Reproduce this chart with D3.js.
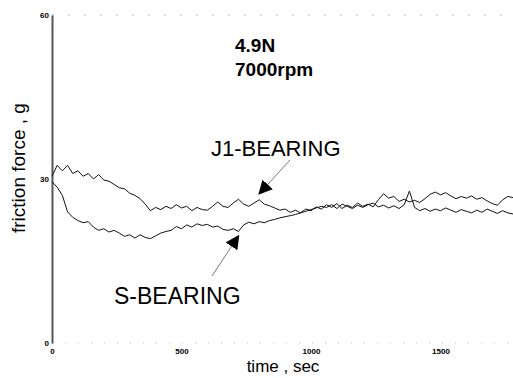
<!DOCTYPE html>
<html>
<head>
<meta charset="utf-8">
<script src="https://cdn.jsdelivr.net/npm/d3@7"></script>
<style>
  body { margin: 0; background: #fff; }
  svg { display: block; font-family: "Liberation Sans", Arial, sans-serif; }
</style>
</head>
<body>
<svg id="chart" width="513" height="378"></svg>
<script>
// sampled every 20 sec, 0 .. 1780
const step = 20;
const j1Bearing = [
  30.5, 32.5, 31.5, 32.5, 31, 31.5, 30.5, 31, 30, 30.8, 29.8,
  29.6, 29, 28.4, 28.2, 27.4, 27, 26.4, 25.4, 24.2, 24.8,
  24.4, 25, 24.6, 25.3, 24.7, 25, 24.2, 24.8, 24.4, 24.3,
  25, 25.8, 25, 24.8, 25.6, 26.3, 25.4, 25, 25.6, 26.2,
  25.4, 25.1, 24.7, 24.3, 24.5, 23.9, 24.3, 23.8, 24.5, 24.2,
  24.9, 24.5, 25.3, 24.8, 25.5, 24.6, 25.2, 24.8, 25.6, 25,
  25.4, 24.9, 26.2, 27.3, 26.5, 26.8, 25.9, 26.3, 25.8, 26.1,
  25.7, 26.4, 27.2, 27.6, 27.1, 27.5, 26.9, 26.4, 26.8, 26.5,
  26.9, 26.3, 26.6, 26, 25.5, 25.2, 26.2, 26.8, 26.6
];
const sBearing = [
  29.5, 28.5, 27, 24, 23, 22.4, 22, 22.2, 21.2, 20.6, 20.9,
  20.3, 20.6, 20.1, 19.5, 19.8, 19.2, 19.8, 19.3, 19.1, 19.6,
  20.1, 20.4, 20.6, 21.3, 20.9, 21.6, 21.2, 21.8, 21.5, 21.7,
  21.2, 21.4, 20.8, 20.6, 20.9, 20.4, 21.6, 22.1, 21.8, 22.2,
  22, 22.4, 22.6, 22.9, 23.1, 23.3, 23.5, 23.8, 24.1, 24.4,
  24.7, 25, 24.8, 25.3, 24.6, 25.4, 25, 24.6, 25.2, 24.8,
  25.3, 25.6, 24.9, 25.2, 24.7, 25.1, 24.6, 25.3, 27.8, 24.8,
  24.2, 24.6, 24.1, 24.5, 24.2, 24.7, 24.3, 23.9, 24.4, 24.1,
  23.8, 24.3, 23.9, 24.5, 24.1, 23.7, 24.2, 23.8, 23.6
];
const xTicks = [0, 500, 1000, 1500];
const yTicks = [0, 30, 60];

const svg = d3.select('#chart');
const x = d3.scaleLinear().domain([0, 1780]).range([52, 513]);
const y = d3.scaleLinear().domain([0, 60]).range([343, 15]);

// faint frame lines top and bottom
svg.append('line')
  .attr('x1', x(0)).attr('x2', 513).attr('y1', y(60)).attr('y2', y(60))
  .attr('stroke', '#bbb').attr('stroke-dasharray', '2,14');
svg.append('line')
  .attr('x1', x(0)).attr('x2', 513).attr('y1', y(0)).attr('y2', y(0))
  .attr('stroke', '#bbb').attr('stroke-dasharray', '1,12');

// y axis
const yAxis = svg.append('g')
  .attr('transform', `translate(${x(0)},0)`)
  .call(d3.axisLeft(y).tickValues(yTicks).tickSize(0).tickPadding(3));
yAxis.select('.domain').attr('stroke', '#555').attr('stroke-width', 2);
yAxis.selectAll('text').attr('font-size', 8).attr('font-weight', 'bold').attr('fill', '#000');

// x axis (labels only)
const xAxis = svg.append('g')
  .attr('transform', `translate(0,${y(0)})`)
  .call(d3.axisBottom(x).tickValues(xTicks).tickFormat(d3.format('d')).tickSize(0).tickPadding(5));
xAxis.select('.domain').remove();
xAxis.selectAll('text').attr('font-size', 8).attr('font-weight', 'bold').attr('fill', '#000');

const line = d3.line()
  .x((d, i) => x(i * step))
  .y(d => y(d));

[sBearing, j1Bearing].forEach(s => {
  svg.append('path')
    .datum(s)
    .attr('d', line)
    .attr('fill', 'none')
    .attr('stroke', '#111')
    .attr('stroke-width', 1);
});

// axis titles
svg.append('text')
  .attr('transform', `translate(25,${y(32)}) rotate(-90)`)
  .attr('text-anchor', 'middle')
  .attr('font-size', 19)
  .text('friction force , g');
svg.append('text')
  .attr('x', 283).attr('y', 372)
  .attr('text-anchor', 'middle')
  .attr('font-size', 17)
  .text('time , sec');

// condition label
svg.append('text').attr('x', 235).attr('y', 52)
  .attr('font-size', 19).attr('font-weight', 'bold').text('4.9N');
svg.append('text').attr('x', 235).attr('y', 76)
  .attr('font-size', 19).attr('font-weight', 'bold').text('7000rpm');

// series labels with arrows
svg.append('defs').append('marker')
  .attr('id', 'head')
  .attr('viewBox', '0 0 10 10')
  .attr('refX', 9).attr('refY', 5)
  .attr('markerWidth', 14).attr('markerHeight', 14)
  .attr('markerUnits', 'userSpaceOnUse')
  .attr('orient', 'auto')
  .append('path').attr('d', 'M0,0L10,5L0,10Z').attr('fill', '#000');

svg.append('text').attr('x', 211).attr('y', 156)
  .attr('font-size', 22).text('J1-BEARING');
svg.append('line')
  .attr('x1', 290).attr('y1', 160).attr('x2', x(800)).attr('y2', y(27.3))
  .attr('stroke', '#555').attr('stroke-width', 0.8)
  .attr('marker-end', 'url(#head)');

svg.append('text').attr('x', 114).attr('y', 304)
  .attr('font-size', 23).text('S-BEARING');
svg.append('line')
  .attr('x1', 212).attr('y1', 276).attr('x2', x(720)).attr('y2', y(19.6))
  .attr('stroke', '#555').attr('stroke-width', 0.8)
  .attr('marker-end', 'url(#head)');
</script>
</body>
</html>
